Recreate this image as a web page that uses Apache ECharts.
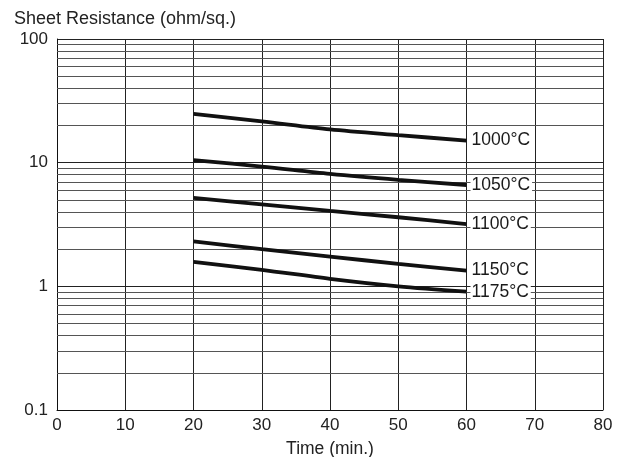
<!DOCTYPE html>
<html>
<head>
<meta charset="utf-8">
<script src="https://cdn.jsdelivr.net/npm/echarts@6/dist/echarts.min.js"></script>
<style>
  html, body { margin: 0; padding: 0; background: #fff; }
  #chart { width: 628px; height: 457px; }
</style>
</head>
<body>
<div id="chart"></div>
<script>
// time axis (minutes) where the curves are sampled
const times = [20, 30, 40, 50, 60];

// sheet resistance (ohm/sq.)
const r1000 = [24.8, 21.6, 18.6, 16.7, 15.1];
const r1050 = [10.5, 9.3, 8.1, 7.25, 6.6];
const r1100 = [5.2, 4.6, 4.07, 3.62, 3.19];
const r1150 = [2.31, 2.0, 1.74, 1.52, 1.34];
const r1175 = [1.58, 1.36, 1.15, 1.0, 0.905];

const seriesNames = ['1000°C', '1050°C', '1100°C', '1150°C', '1175°C'];

// log minor gridlines (2..9 in each decade)
const minorGrid = [0.2, 0.3, 0.4, 0.5, 0.6, 0.7, 0.8, 0.9,
                   2, 3, 4, 5, 6, 7, 8, 9,
                   20, 30, 40, 50, 60, 70, 80, 90];

const yTickLabels = { '0.1': '0.1', '1': '1', '10': '10', '100': '100' };

const font = '"Liberation Sans", Arial, Helvetica, sans-serif';

const chart = echarts.init(document.getElementById('chart'));

const curves = [r1000, r1050, r1100, r1150, r1175].map((vals, i) => ({
    name: seriesNames[i],
    type: 'line',
    data: times.map((t, j) => [t, vals[j]]),
    smooth: 0.3,
    showSymbol: false,
    symbol: 'none',
    z: 5,
    lineStyle: { color: '#111', width: 3.8 },
    endLabel: {
        show: true,
        formatter: '{a}',
        fontSize: 17.5,
        fontFamily: font,
        color: '#1a1a1a',
        backgroundColor: '#fff',
        padding: [1, 2, 1, 1],
        distance: 4
    },
    emphasis: { disabled: true }
}));

const option = {
    animation: false,
    backgroundColor: '#fff',
    title: {
        text: 'Sheet Resistance (ohm/sq.)',
        left: 9,
        top: 5,
        textStyle: { fontSize: 18, fontWeight: 'normal', color: '#222', fontFamily: font }
    },
    grid: { left: 57, right: 25, top: 39, bottom: 47, outerBoundsMode: 'none' },
    xAxis: {
        type: 'value',
        min: 0,
        max: 80,
        interval: 10,
        name: 'Time (min.)',
        nameLocation: 'middle',
        nameGap: 30,
        nameTextStyle: { fontSize: 17.5, color: '#222', fontFamily: font },
        axisLine: { show: true, lineStyle: { color: '#111', width: 1 } },
        axisTick: { show: false },
        axisLabel: { fontSize: 17, color: '#222', fontFamily: font, margin: 7 },
        splitLine: { show: true, lineStyle: { color: '#222', width: 1 } }
    },
    yAxis: {
        type: 'log',
        logBase: 10,
        min: 0.1,
        max: 100,
        axisLine: { show: true, lineStyle: { color: '#111', width: 1 } },
        axisTick: { show: false },
        axisLabel: {
            fontSize: 17,
            color: '#222',
            fontFamily: font,
            margin: 9,
            formatter: v => yTickLabels[String(+v.toPrecision(3))] || ''
        },
        splitLine: { show: true, lineStyle: { color: '#222', width: 1 } }
    },
    series: [
        {
            name: 'grid',
            type: 'line',
            data: [],
            z: 1,
            silent: true,
            markLine: {
                silent: true,
                symbol: 'none',
                label: { show: false },
                animation: false,
                lineStyle: { color: '#555', width: 1, type: 'solid' },
                emphasis: { disabled: true },
                data: minorGrid.map(v => ({ yAxis: v }))
            }
        }
    ].concat(curves)
};

chart.setOption(option);
</script>
</body>
</html>
